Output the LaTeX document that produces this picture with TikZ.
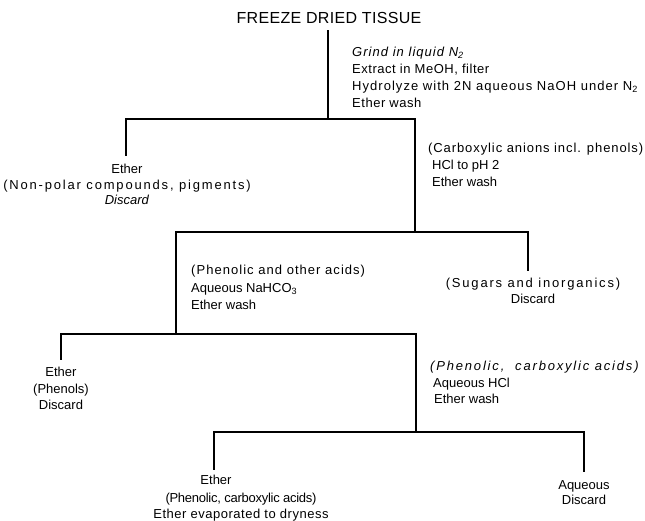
\documentclass[tikz,border=0pt]{standalone}
\usepackage{fontspec}
\setmainfont{Liberation Sans}
\newcommand\lsp[1]{\addfontfeature{LetterSpace=#1}}
\begin{document}
\begin{tikzpicture}[x=1pt,y=-1pt,
  mainline/.style={line width=2.5pt},
  midline/.style={line width=2.2pt},
  branchline/.style={line width=1.3pt},
  lbl/.style={inner sep=0pt, font=\fontsize{13}{17}\selectfont}]
\useasboundingbox[fill=white] (0,0) rectangle (645,520);

% title
\node[inner sep=0pt, font=\fontsize{16}{19}\selectfont\lsp{2}] (title) at (329,18) {FREEZE DRIED TISSUE};

% junctions
\coordinate (a0) at (328,30);
\coordinate (j1) at (328,119);
\coordinate (l1) at (126,119);
\coordinate (l1e) at (126,156);
\coordinate (r1) at (415,119);
\coordinate (j2) at (415,232);
\coordinate (l2) at (176,232);
\coordinate (r2) at (528,232);
\coordinate (r2e) at (528,271);
\coordinate (j3) at (176,334);
\coordinate (l3) at (61,334);
\coordinate (l3e) at (61,360);
\coordinate (r3) at (416,334);
\coordinate (j4) at (416,432);
\coordinate (l4) at (214,432);
\coordinate (l4e) at (214,470);
\coordinate (r4) at (584,432);
\coordinate (r4e) at (584,472);

% connectors
\draw[midline] (a0) -- (j1);
\draw[branchline] (j1) -- (l1) -- (l1e);
\draw[mainline] (j1) -- (r1) -- (j2);
\draw[mainline] (j2) -- (l2) -- (j3) -- (r3) -- (j4);
\draw[branchline] (j2) -- (r2) -- (r2e);
\draw[branchline] (j3) -- (l3) -- (l3e);
\draw[midline] (j4) -- (l4) -- (l4e);
\draw[branchline] (j4) -- (r4) -- (r4e);

% labels
\node[lbl, anchor=north west, align=left, font=\fontsize{13}{17}\selectfont\lsp{4}] (steps) at (352,47)
  {{\itshape\lsp{8}Grind in liquid N\textsubscript{2}}\\Extract in MeOH, filter\\{\lsp{8}Hydrolyze with 2N aqueous NaOH under N\textsubscript{2}}\\Ether wash};

\node[lbl, anchor=north, align=center, font=\fontsize{13}{15.5}\selectfont] (ethA) at (127,164)
  {Ether\\{\lsp{14}(Non-polar compounds, pigments)}\\\textit{Discard}};

\node[lbl, anchor=north west, align=left] (carb) at (428,143)
  {{\lsp{7}(Carboxylic anions incl. phenols)}\\\hspace*{4pt}HCl to pH 2\\\hspace*{4pt}Ether wash};

\node[lbl, anchor=north west, align=left, font=\fontsize{13}{17.5}\selectfont] (phen) at (191,265)
  {{\lsp{8}(Phenolic and other acids)}\\Aqueous NaHCO\textsubscript{3}\\Ether wash};

\node[lbl, anchor=north, align=center, font=\fontsize{13}{16}\selectfont] (sug) at (533,278)
  {{\lsp{14}(Sugars and inorganics)}\\Discard};

\node[lbl, anchor=north west, align=left, font=\fontsize{13}{16.5}\selectfont] (phca) at (430,361)
  {{\itshape\lsp{14}(Phenolic,\ \ carboxylic acids)}\\\hspace*{3pt}Aqueous HCl\\\hspace*{4pt}Ether wash};

\node[lbl, anchor=north, align=center, font=\fontsize{13}{16.5}\selectfont] (ethB) at (61,367)
  {Ether\\(Phenols)\\Discard};

\node[lbl, anchor=north] (ethC) at (216,475) {Ether};
\node[lbl, anchor=north, align=center, font=\fontsize{13}{15.5}\selectfont] (evap) at (241,493)
  {{\lsp{-2}(Phenolic, carboxylic acids)}\\{\lsp{4}Ether evaporated to dryness}};

\node[lbl, anchor=north, align=center, font=\fontsize{13}{15.5}\selectfont] (aq) at (584,480)
  {Aqueous\\Discard};
\end{tikzpicture}
\end{document}
